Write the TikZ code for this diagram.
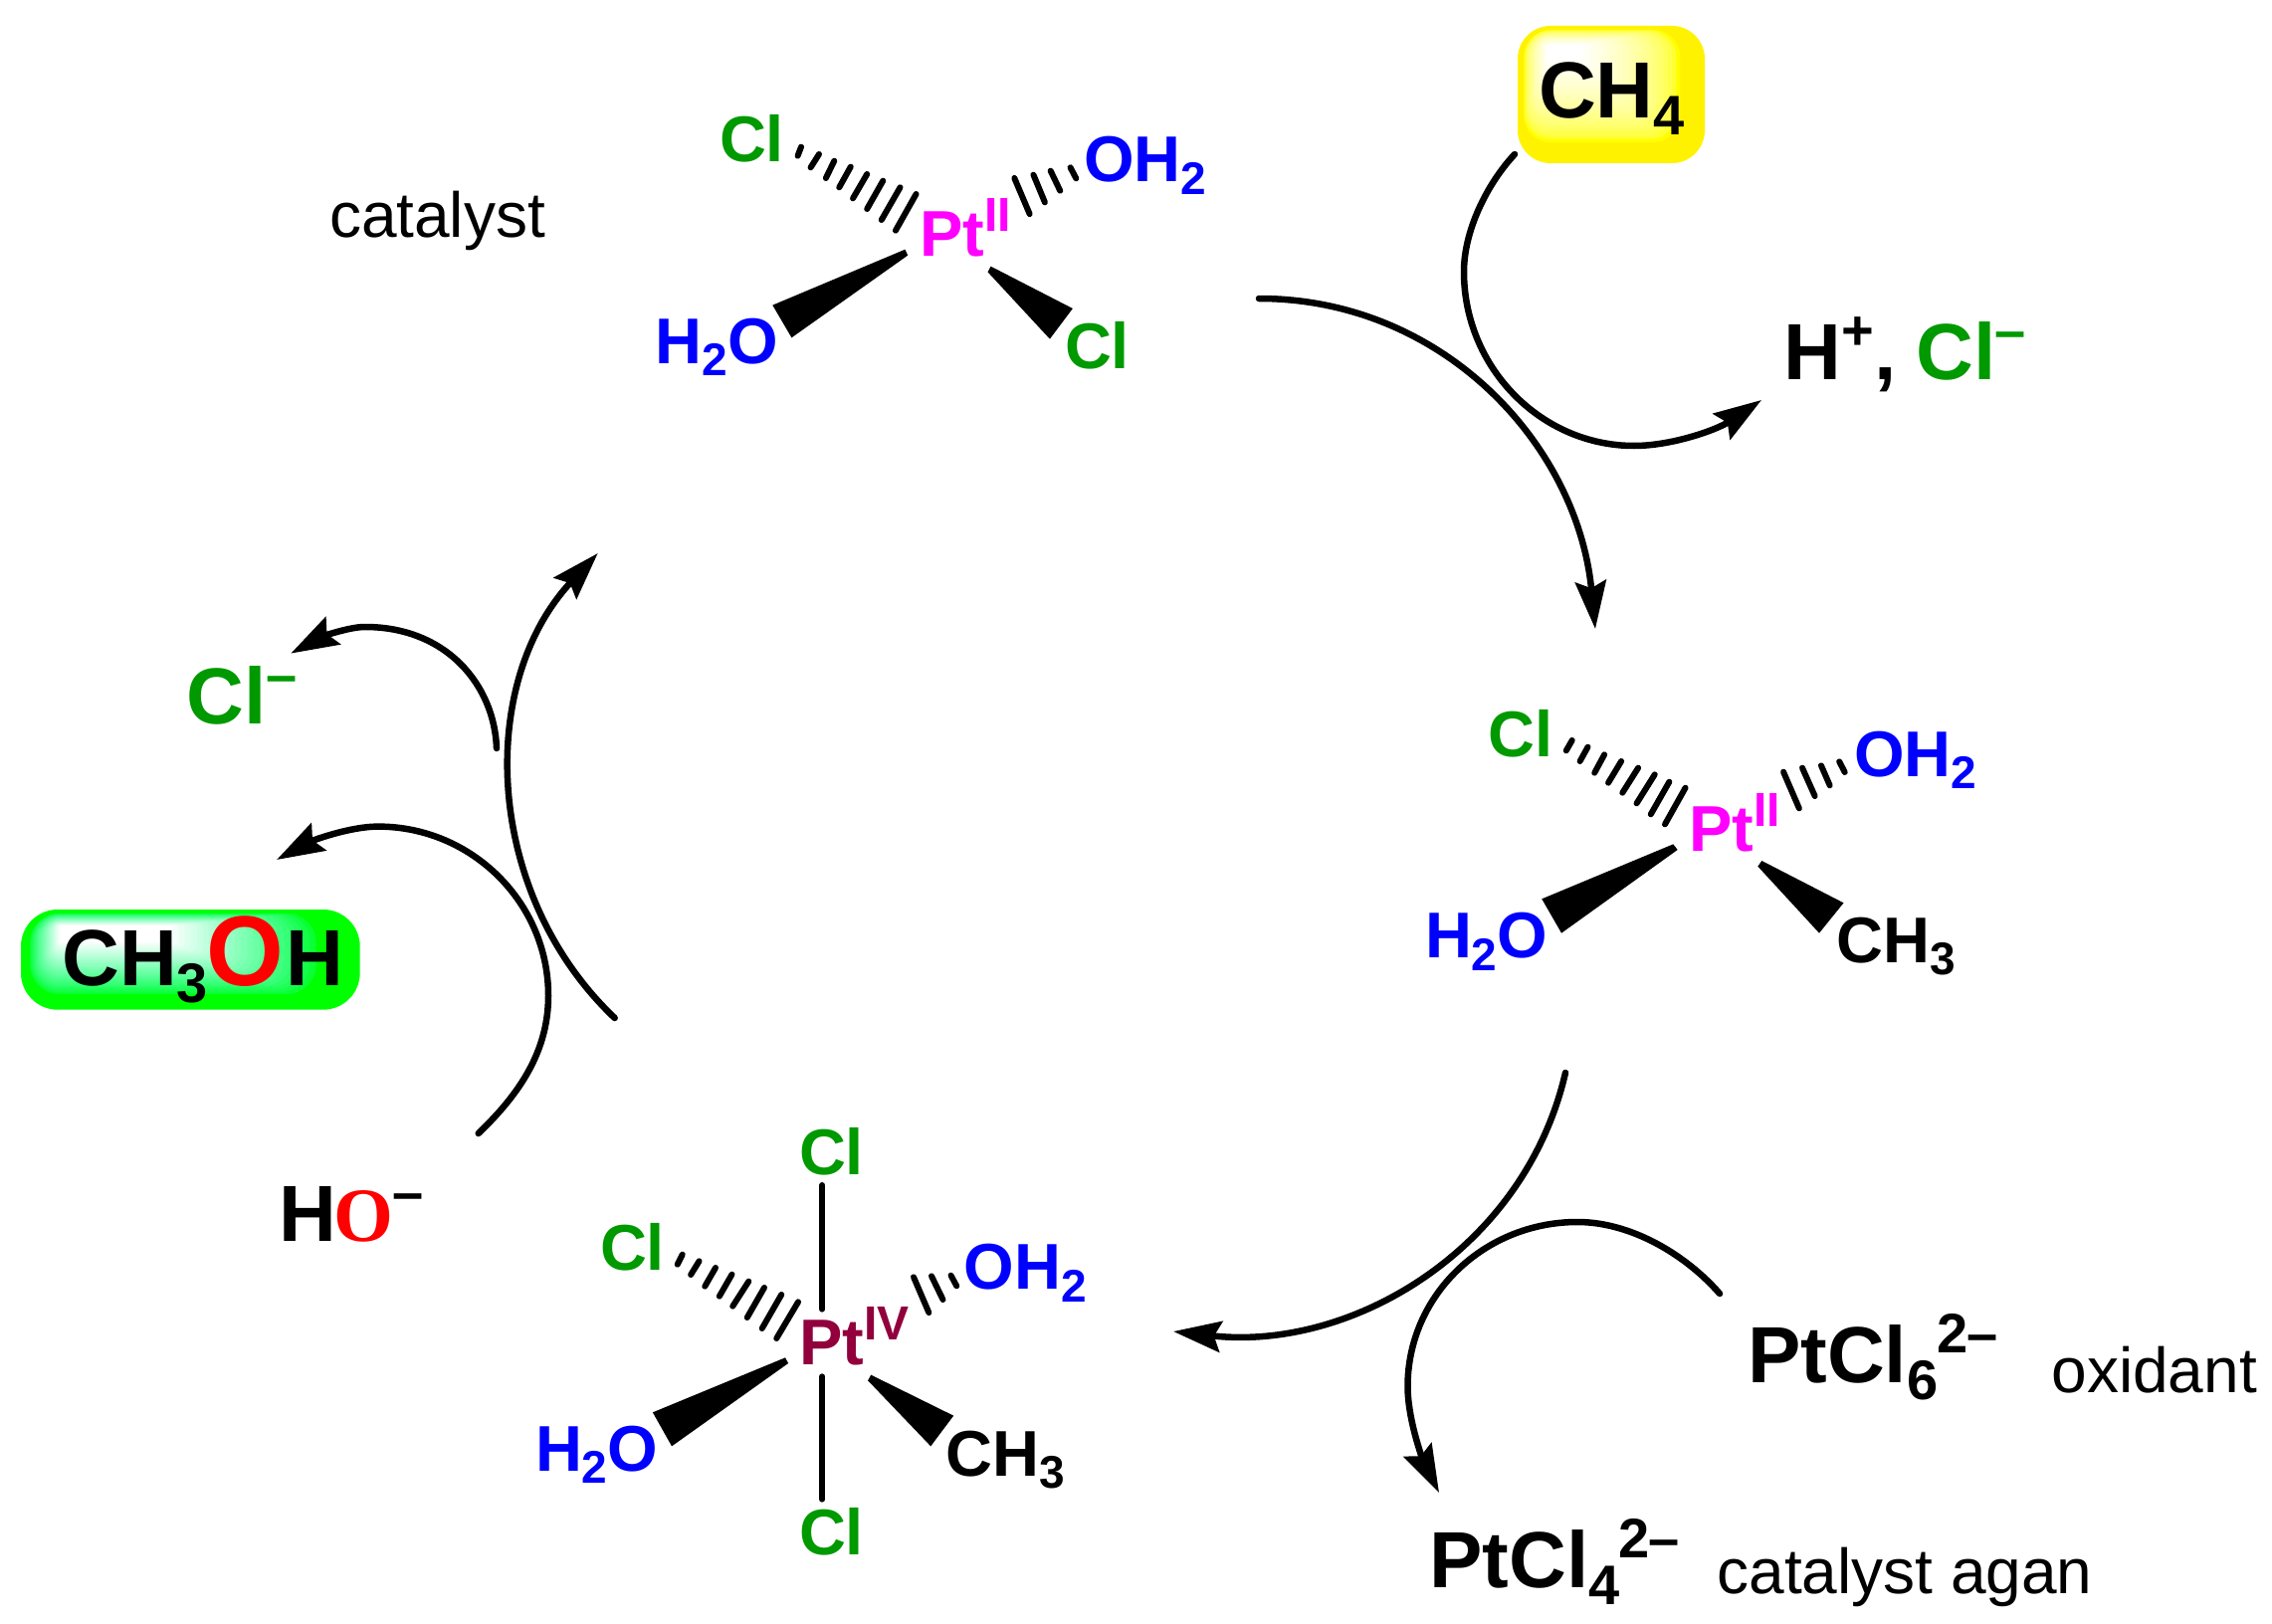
\documentclass[tikz,border=0pt]{standalone}
\usepackage{fontspec}
\setmainfont{Liberation Sans}
\newfontfamily\serifface{Liberation Serif}
\usetikzlibrary{arrows.meta}
\definecolor{clg}{RGB}{0,153,0}
\definecolor{oxb}{RGB}{0,0,255}
\definecolor{ptm}{RGB}{255,0,255}
\definecolor{ptr}{RGB}{145,0,60}
\newcommand\fL{\fontsize{65}{70}\selectfont\bfseries}
\newcommand\fB{\fontsize{80}{86}\selectfont\bfseries}
\newcommand\fT{\fontsize{64}{68}\selectfont}
\newcommand\lsub[1]{\raisebox{-12.5pt}{\fontsize{46}{46}\selectfont #1}}
\newcommand\lsup[1]{\raisebox{25pt}{\fontsize{48}{48}\selectfont #1}}
\newcommand\bsub[1]{\raisebox{-17pt}{\fontsize{56}{56}\selectfont #1}}
\newcommand\bsup[1]{\raisebox{30pt}{\fontsize{56}{56}\selectfont #1}}
\tikzset{
  lbl/.style={inner sep=0pt,outer sep=0pt,anchor=base west,font=\fL},
  big/.style={inner sep=0pt,outer sep=0pt,anchor=base west,font=\fB},
  plain/.style={inner sep=0pt,outer sep=0pt,anchor=base west,font=\fT},
  hashb/.style={line width=6pt,line cap=round},
  bondb/.style={line width=6pt,line cap=round},
  wedgeb/.style={fill=black,draw=none},
  arr/.style={line width=6.5pt,line cap=round,-{Stealth[length=48pt,width=31pt,inset=7pt]}},
  z1/.style={x=0.38270pt,y=-0.33333pt},
  z4/.style={x=0.38270pt,y=-0.33333pt},
  z8/.style={x=0.39541pt,y=-0.33333pt},
}
\begin{document}
\begin{tikzpicture}[x=1pt,y=-1pt]
\useasboundingbox (0,0) rectangle (2283,1632);
\fill[white] (0,0) rectangle (2283,1632);
% glow: methane
\fill[yellow] (1525,26) [rounded corners=33pt] rectangle (1713,164);
\foreach \k in {0,...,24}{
  \pgfmathsetmacro\t{0.2+0.8*\k/24}
  \pgfmathtruncatemacro\bb{255*sqrt((\t-0.2)/0.8)}
  \definecolor{gy}{RGB}{255,255,\bb}
  \pgfmathsetmacro\xa{1525+(1555-1525)*\t}
  \pgfmathsetmacro\xb{1713+(1590-1713)*\t}
  \pgfmathsetmacro\ya{26+(45-26)*\t}
  \pgfmathsetmacro\yb{164+(60-164)*\t}
  \pgfmathsetmacro\rr{33*(1-\t)+1}
  \fill[gy,rounded corners=\rr pt] (\xa,\ya) rectangle (\xb,\yb);
}
% glow: methanol
\fill[green] (21,914) [rounded corners=37pt] rectangle (361.7,1014.7);
\foreach \k in {0,...,24}{
  \pgfmathsetmacro\t{0.2+0.8*\k/24}
  \pgfmathsetmacro\u{(\t-0.2)/0.8}
  \pgfmathtruncatemacro\bb{255*sqrt(\u)}
  \pgfmathtruncatemacro\rc{255*\u}
  \definecolor{gg}{RGB}{\rc,255,\bb}
  \pgfmathsetmacro\xa{21+(60-21)*\t}
  \pgfmathsetmacro\xb{361.7+(173-361.7)*\t}
  \pgfmathsetmacro\ya{914+(930-914)*\t}
  \pgfmathsetmacro\yb{1014.7+(947-1014.7)*\t}
  \pgfmathsetmacro\rr{37*(1-\t)+1}
  \fill[gg,rounded corners=\rr pt] (\xa,\ya) rectangle (\xb,\yb);
}
% complex 1
\begin{scope}[shift={(650,80)},z1]
  \foreach \a/\b/\c/\d in {396/230/405/203,430/265/452/225,470/297/492/245,505/325/535/263,541/358/578/285,578/390/620/305,616/423/665/325,653/455/707/345,1005/405/965/297,1045/370/1015/287,1085/335/1060/275,1127/298/1112/265}
    \draw[hashb] (\a,\b) -- (\c,\d);
  \fill[wedgeb] (678,512) -- (685,530) -- (380,778) -- (330,680) -- cycle;
  \fill[wedgeb] (903,563) -- (895,580) -- (1058,782) -- (1118,690) -- cycle;
\end{scope}
\node[lbl,text=clg] (c1cl) at (723,163) {Cl};
\node[lbl,text=oxb] (c1oh) at (1089,182.7) {OH\lsub{2}};
\node[lbl,text=ptm] (c1pt) at (924,258) {Pt\lsup{II}};
\node[lbl,text=oxb] (c1ho) at (658.6,365) {H\lsub{2}O};
\node[lbl,text=clg] (c1clb) at (1070,370) {Cl};
% complex 2
\begin{scope}[shift={(1380,680)},z8]
  \foreach \a/\b/\c/\d in {490/223/505/192,525/255/545/212,562/290/587/235,597/320/630/255,633/350/673/275,669/382/715/295,705/415/752/317,741/445/793/335,1082/397/1042/287,1122/360/1090/275,1160/328/1138/268,1198/288/1184/256}
    \draw[hashb] (\a,\b) -- (\c,\d);
  \fill[wedgeb] (762,505) -- (773,522) -- (478,773) -- (428,670) -- cycle;
  \fill[wedgeb] (987,555) -- (977,572) -- (1133,773) -- (1195,682) -- cycle;
\end{scope}
\node[lbl,text=clg] (c2cl) at (1495.6,760) {Cl};
\node[lbl,text=oxb] (c2oh) at (1863,780) {OH\lsub{2}};
\node[lbl,text=ptm] (c2pt) at (1697,855) {Pt\lsup{II}};
\node[lbl,text=oxb] (c2ho) at (1432,962.7) {H\lsub{2}O};
\node[lbl] (c2me) at (1845.5,967) {CH\lsub{3}};
% complex 3
\begin{scope}[shift={(520,1120)},z4]
  \foreach \a/\b/\c/\d in {420/452/433/422,455/483/477/442,492/518/520/462,530/548/563/482,565/578/607/503,603/612/648/522,642/645/693/543,680/675/737/565,1080/597/1040/490,1117/558/1087/487,1153/517/1138/485}
    \draw[hashb] (\a,\b) -- (\c,\d);
  \fill[wedgeb] (703,733) -- (711,750) -- (405,1000) -- (355,898) -- cycle;
  \fill[wedgeb] (928,785) -- (920,802) -- (1085,1000) -- (1145,908) -- cycle;
  \coordinate (btopa) at (800,213);
  \coordinate (btopb) at (800,587);
  \coordinate (bbota) at (800,790);
  \coordinate (bbotb) at (800,1160);
\end{scope}
\draw[bondb] (btopa) -- (btopb);
\draw[bondb] (bbota) -- (bbotb);
\node[lbl,text=clg] (c3clt) at (803,1180.7) {Cl};
\node[lbl,text=clg] (c3cll) at (603,1276.7) {Cl};
\node[lbl,text=oxb] (c3oh) at (968.6,1295.7) {OH\lsub{2}};
\node[lbl,text=ptr] (c3pt) at (803,1371.7) {Pt\lsup{IV}};
\node[lbl,text=oxb] (c3ho) at (538,1478) {H\lsub{2}O};
\node[lbl] (c3me) at (950.6,1483) {CH\lsub{3}};
\node[lbl,text=clg] (c3clb) at (803,1562) {Cl};
% species
\node[big] (ch4) at (1546,119) {CH\bsub{4}};
\node[big] (hcl) at (1792.5,381.7) {H\bsup{+}, \kern-2pt\textcolor{clg}{Cl\kern-1pt\bsup{–}}};
\node[big,text=clg] (clm) at (187.3,727.7) {Cl\bsup{–}};
\node[big] (meoh) at (62.3,990) {CH\bsub{3}\kern-1pt\textcolor{red}{\fontsize{100}{100}\selectfont O}\kern2pt H};
\node[big] (hom) at (280.5,1247.7) {H\kern-3pt\textcolor{red}{\serifface\fontsize{77}{77}\selectfont O}\kern-1pt\bsup{–}};
\node[big] (ptcl6) at (1756,1389) {PtCl\bsub{6}\kern-1pt\bsup{2\kern-1pt–}};
\node[big] (ptcl4) at (1436.5,1595) {PtCl\bsub{4}\kern-1pt\bsup{2\kern-1pt–}};
\node[plain] (oxi) at (2061.5,1399.3) {oxidant};
\node[plain] (cata) at (1725.5,1601.7) {catalyst agan};
\node[plain] (cat) at (331,239) {catalyst};
% free ends of the arrows
\coordinate (a1s) at (1522,155);    \coordinate (a1e) at (1770,402);
\coordinate (a2s) at (1265,300);    \coordinate (a2e) at (1603,632);
\coordinate (a3s) at (1573,1078);   \coordinate (a3e) at (1179,1338);
\coordinate (a4s) at (1728,1300);   \coordinate (a4e) at (1446,1500);
\coordinate (a5s) at (617.7,1023);  \coordinate (a5e) at (600.7,556);
\coordinate (a6s) at (499,752);     \coordinate (a6e) at (292.3,656.6);
\coordinate (a7s) at (480.7,1139);  \coordinate (a7e) at (278,864);
\draw[arr] (a1s) .. controls (1494,185) and (1471,232) .. (1471,273)
  .. controls (1471,369) and (1548,448) .. (1642,448)
  .. controls (1680,448) and (1725,432) .. (a1e);
\draw[arr] (a2s) .. controls (1450,300) and (1585,447) .. (a2e);
\draw[arr] (a3s) .. controls (1532,1255.7) and (1358,1358) .. (a3e);
\draw[arr] (a4s) .. controls (1695,1262) and (1640,1228) .. (1585,1228)
  .. controls (1491,1228) and (1414.5,1302) .. (1414.5,1393)
  .. controls (1414.5,1430) and (1432.5,1473) .. (a4e);
\draw[arr] (a5s) .. controls (487,899) and (478,687.6) .. (a5e);
\draw[arr] (a6s) .. controls (497,690) and (450,630) .. (366.7,630)
  .. controls (350,630) and (322,640.6) .. (a6e);
\draw[arr] (a7s) .. controls (518,1103) and (551,1060) .. (551,1000.6)
  .. controls (551,907) and (474,830.6) .. (380,830.6)
  .. controls (350,830.6) and (311,846) .. (a7e);
\end{tikzpicture}
\end{document}
